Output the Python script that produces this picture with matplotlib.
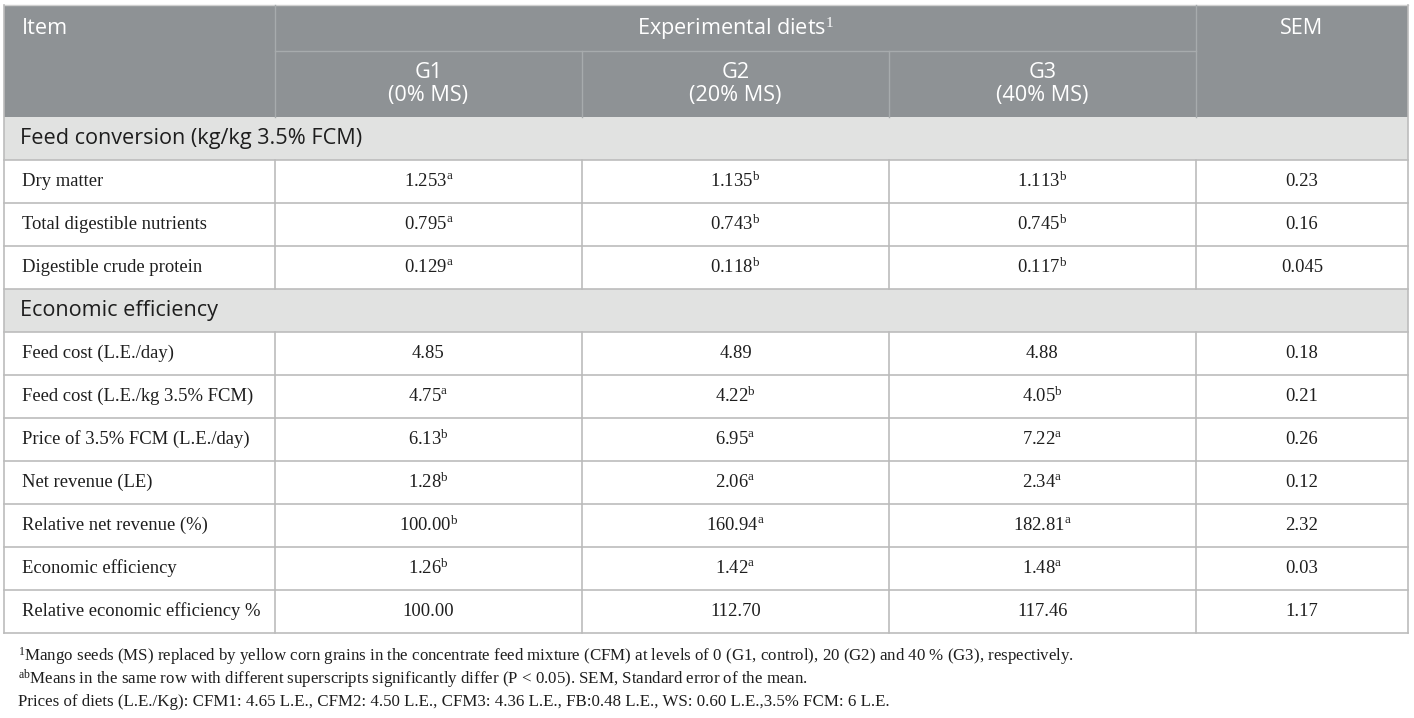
import matplotlib
matplotlib.use('agg')
import matplotlib.pyplot as plt
from matplotlib.patches import Rectangle

plt.rcParams['mathtext.fontset'] = 'custom'
plt.rcParams['mathtext.rm'] = 'Liberation Serif'
plt.rcParams['mathtext.it'] = 'Liberation Serif:italic'

# Table content
groups = ['G1', 'G2', 'G3']
group_levels = ['(0% MS)', '(20% MS)', '(40% MS)']
sections = ['Feed conversion (kg/kg 3.5% FCM)', 'Economic efficiency']

fc_items = ['Dry matter', 'Total digestible nutrients', 'Digestible crude protein']
fc_g1 = [('1.253', 'a'), ('0.795', 'a'), ('0.129', 'a')]
fc_g2 = [('1.135', 'b'), ('0.743', 'b'), ('0.118', 'b')]
fc_g3 = [('1.113', 'b'), ('0.745', 'b'), ('0.117', 'b')]
fc_sem = ['0.23', '0.16', '0.045']

ee_items = ['Feed cost (L.E./day)', 'Feed cost (L.E./kg 3.5% FCM)',
            'Price of 3.5% FCM (L.E./day)', 'Net revenue (LE)',
            'Relative net revenue (%)', 'Economic efficiency',
            'Relative economic efficiency %']
ee_g1 = [('4.85', ''), ('4.75', 'a'), ('6.13', 'b'), ('1.28', 'b'),
         ('100.00', 'b'), ('1.26', 'b'), ('100.00', '')]
ee_g2 = [('4.89', ''), ('4.22', 'b'), ('6.95', 'a'), ('2.06', 'a'),
         ('160.94', 'a'), ('1.42', 'a'), ('112.70', '')]
ee_g3 = [('4.88', ''), ('4.05', 'b'), ('7.22', 'a'), ('2.34', 'a'),
         ('182.81', 'a'), ('1.48', 'a'), ('117.46', '')]
ee_sem = ['0.18', '0.21', '0.26', '0.12', '2.32', '0.03', '1.17']

footnotes = [
    r'$^{1}$Mango seeds (MS) replaced by yellow corn grains in the concentrate '
    r'feed mixture (CFM) at levels of 0 (G1, control), 20 (G2) and 40 % (G3), respectively.',
    r'$^{\mathrm{ab}}$Means in the same row with different superscripts significantly '
    r'differ (P < 0.05). SEM, Standard error of the mean.',
    'Prices of diets (L.E./Kg): CFM1: 4.65 L.E., CFM2: 4.50 L.E., CFM3: 4.36 L.E., '
    'FB:0.48 L.E., WS: 0.60 L.E.,3.5% FCM: 6 L.E.',
]

# Layout (pixels)
W, H = 1414, 718
col_edges = [4, 275, 582, 889, 1196, 1408]
head_top, head_mid, head_bot = 5, 51, 117
row_h = 43

header_bg = '#8e9295'
header_line = '#a7abad'
band_bg = '#e1e2e1'
grid = '#bcbcbc'
txt = '#1e1e1e'
sans = 'Open Sans'
serif = 'Liberation Serif'
fs_head = 15.6
fs_body = 13.4
fs_note = 12.2

fig = plt.figure(figsize=(W / 100, H / 100), dpi=100)
ax = fig.add_axes([0, 0, 1, 1])
ax.set_xlim(0, W)
ax.set_ylim(H, 0)
ax.axis('off')

left, right = col_edges[0], col_edges[-1]

# header block
ax.add_patch(Rectangle((left, head_top), right - left, head_bot - head_top,
                       facecolor=header_bg, edgecolor='none'))
ax.plot([left, right], [head_top, head_top], color='#d0d0d0', lw=1)
ax.plot([col_edges[1], col_edges[4]], [head_mid, head_mid], color=header_line, lw=1)
for x in col_edges[1:5:3]:
    ax.plot([x, x], [head_top, head_bot], color=header_line, lw=1)
for x in col_edges[2:4]:
    ax.plot([x, x], [head_mid, head_bot], color=header_line, lw=1)

ax.text(22, 29, 'Item', color='white', fontsize=fs_head, family=sans, va='center')
ax.text((col_edges[1] + col_edges[4]) / 2, 29, r'Experimental diets$^{1}$',
        color='white', fontsize=fs_head, family=sans, va='center', ha='center')
ax.text((col_edges[4] + col_edges[5]) / 2, 29, 'SEM', color='white',
        fontsize=fs_head, family=sans, va='center', ha='center')
for i, (g, lv) in enumerate(zip(groups, group_levels)):
    cx = (col_edges[i + 1] + col_edges[i + 2]) / 2
    ax.text(cx, 72, g, color='white', fontsize=fs_head, family=sans,
            va='center', ha='center')
    ax.text(cx, 96, lv, color='white', fontsize=fs_head, family=sans,
            va='center', ha='center')


def cell(v):
    num, sup = v
    return num + (r'$^{\mathrm{%s}}$' % sup if sup else '')


def draw_section(y0, title, items, g1, g2, g3, sem):
    ax.add_patch(Rectangle((left, y0), right - left, row_h,
                           facecolor=band_bg, edgecolor='none'))
    ax.text(20, y0 + row_h / 2, title, color=txt, fontsize=fs_head, family=sans,
            va='center')
    y = y0 + row_h
    for k, item in enumerate(items):
        yc = y + row_h / 2
        ax.text(22, yc, item, color=txt, fontsize=fs_body, family=serif, va='center')
        vals = [cell(g1[k]), cell(g2[k]), cell(g3[k]), sem[k]]
        for j, v in enumerate(vals):
            cx = (col_edges[j + 1] + col_edges[j + 2]) / 2
            ax.text(cx, yc, v, color=txt, fontsize=fs_body, family=serif,
                    va='center', ha='center')
        ax.plot([left, right], [y, y], color=grid, lw=1.2)
        for x in col_edges[1:5]:
            ax.plot([x, x], [y, y + row_h], color=grid, lw=1.2)
        y += row_h
    ax.plot([left, right], [y, y], color=grid, lw=1.2)
    return y


y = draw_section(head_bot, sections[0], fc_items, fc_g1, fc_g2, fc_g3, fc_sem)
y_end = draw_section(y, sections[1], ee_items, ee_g1, ee_g2, ee_g3, ee_sem)

# outer borders
ax.plot([left, left], [head_top, y_end], color=grid, lw=1.2)
ax.plot([right, right], [head_top, y_end], color=grid, lw=1.2)

for k, note in enumerate(footnotes):
    ax.text(18, 656 + k * 23, note, color=txt, fontsize=fs_note, family=serif,
            va='center')

fig.savefig('out.png', dpi=100)
